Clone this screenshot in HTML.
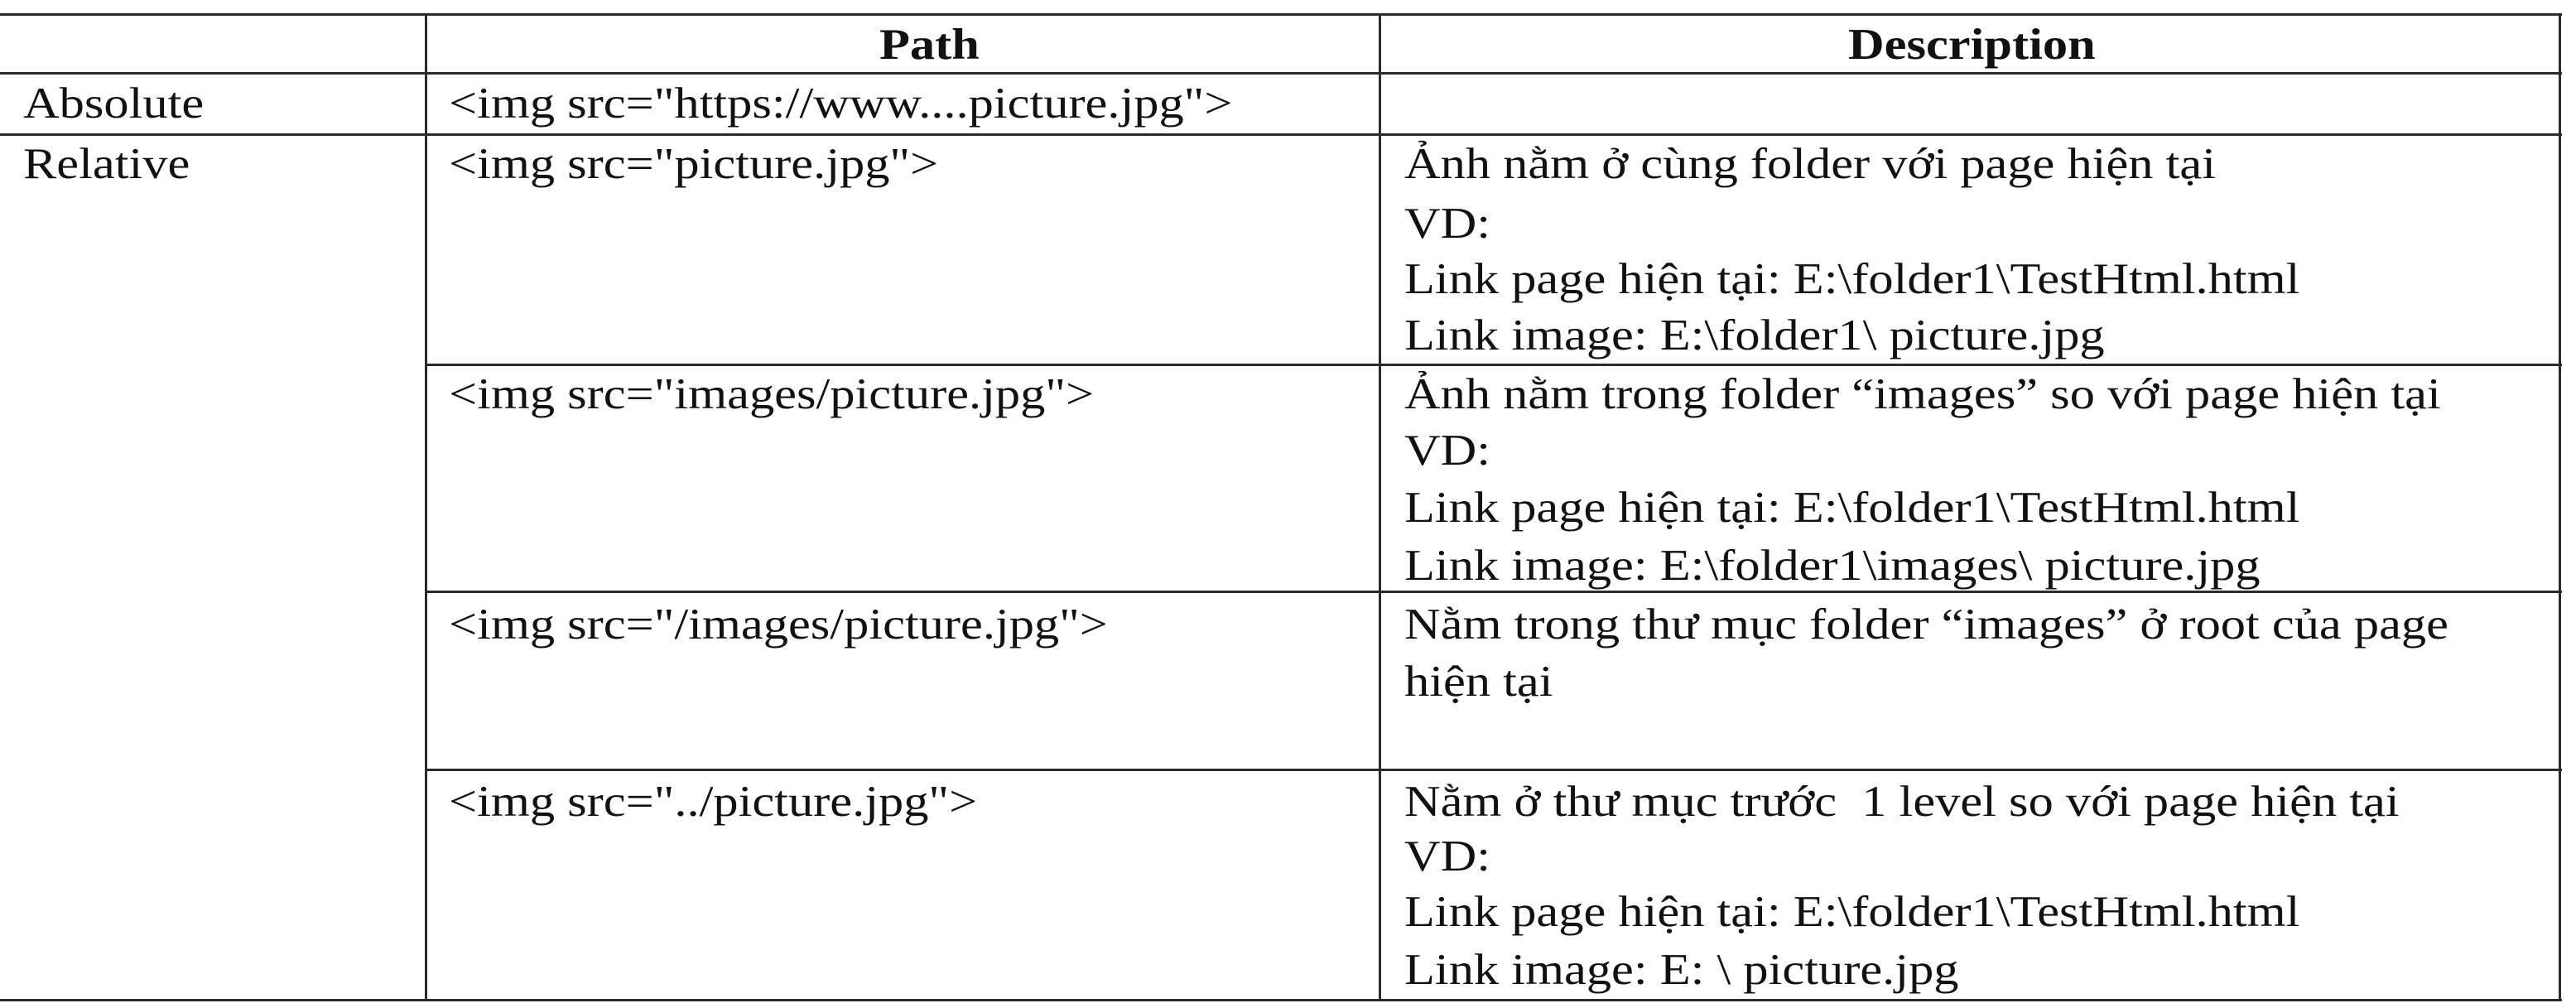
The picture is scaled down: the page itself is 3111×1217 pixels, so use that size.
<!DOCTYPE html>
<html><head><meta charset="utf-8"><style>
html,body{margin:0;padding:0;background:#fff;}
#wrap{position:relative;width:3111px;height:1217px;overflow:hidden;font-family:"Liberation Serif","DejaVu Serif",serif;color:#111;}
.h{position:absolute;height:3px;background:#2a2a2a;}
.v{position:absolute;width:3px;background:#2a2a2a;}
.t{position:absolute;font-size:53px;line-height:60px;white-space:pre;transform:scaleX(1.14);transform-origin:0 50%;}
.b{font-weight:bold;}
</style></head><body>
<div id="wrap">
<div class="h" style="left:0;top:16px;width:3094px"></div>
<div class="h" style="left:0;top:87px;width:3094px"></div>
<div class="h" style="left:0;top:161px;width:3094px"></div>
<div class="h" style="left:514px;top:439px;width:2580px"></div>
<div class="h" style="left:514px;top:713px;width:2580px"></div>
<div class="h" style="left:514px;top:928px;width:2580px"></div>
<div class="h" style="left:0;top:1206px;width:3094px"></div>
<div class="v" style="left:513px;top:16px;height:1193px"></div>
<div class="v" style="left:1665px;top:16px;height:1193px"></div>
<div class="v" style="left:3090px;top:16px;height:1193px"></div>

<div class="t b" style="left:1062px;top:24px">Path</div>
<div class="t b" style="left:2232px;top:24px">Description</div>

<div class="t" style="left:28px;top:95px">Absolute</div>
<div class="t" style="left:542px;top:95px">&lt;img src="https://www....picture.jpg"&gt;</div>

<div class="t" style="left:28px;top:168px">Relative</div>
<div class="t" style="left:542px;top:168px">&lt;img src="picture.jpg"&gt;</div>
<div class="t" style="left:1696px;top:168px">Ảnh nằm ở cùng folder với page hiện tại</div>
<div class="t" style="left:1696px;top:240px">VD:</div>
<div class="t" style="left:1696px;top:307px">Link page hiện tại: E:\folder1\TestHtml.html</div>
<div class="t" style="left:1696px;top:375px">Link image: E:\folder1\ picture.jpg</div>

<div class="t" style="left:542px;top:446px">&lt;img src="images/picture.jpg"&gt;</div>
<div class="t" style="left:1696px;top:446px">Ảnh nằm trong folder “images” so với page hiện tại</div>
<div class="t" style="left:1696px;top:514px">VD:</div>
<div class="t" style="left:1696px;top:583px">Link page hiện tại: E:\folder1\TestHtml.html</div>
<div class="t" style="left:1696px;top:653px">Link image: E:\folder1\images\ picture.jpg</div>

<div class="t" style="left:542px;top:724px">&lt;img src="/images/picture.jpg"&gt;</div>
<div class="t" style="left:1696px;top:724px">Nằm trong thư mục folder “images” ở root của page</div>
<div class="t" style="left:1696px;top:793px">hiện tại</div>

<div class="t" style="left:542px;top:938px">&lt;img src="../picture.jpg"&gt;</div>
<div class="t" style="left:1696px;top:938px">Nằm ở thư mục trước  1 level so với page hiện tại</div>
<div class="t" style="left:1696px;top:1004px">VD:</div>
<div class="t" style="left:1696px;top:1071px">Link page hiện tại: E:\folder1\TestHtml.html</div>
<div class="t" style="left:1696px;top:1141px">Link image: E: \ picture.jpg</div>
</div>
</body></html>
